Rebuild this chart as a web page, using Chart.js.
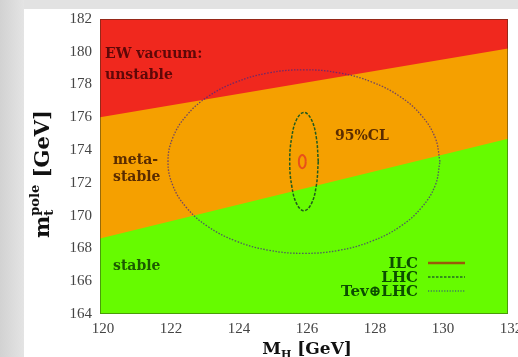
<!DOCTYPE html>
<html>
<head>
<meta charset="utf-8">
<script src="https://cdn.jsdelivr.net/npm/chart.js@4.4.1/dist/chart.umd.min.js"></script>
<style>
  html, body { margin: 0; padding: 0; background: #dedede; }
  #wrap { position: absolute; left: 0; top: 0; width: 518px; height: 357px; }
</style>
</head>
<body>
<div id="wrap"><canvas id="vacuum" width="518" height="357"></canvas></div>
<script>
// region boundaries (M_H, m_t)
var edgeMH = [120, 132];
var unstableEdge = [176.0, 180.2];
var stableEdge = [168.6, 174.7];

// Tev+LHC contour
var tevMH = [130.0, 129.86, 129.46, 128.83, 128.0, 127.04, 126.0, 124.96, 124.0, 123.17, 122.54, 122.14, 122.0,
             122.14, 122.54, 123.17, 124.0, 124.96, 126.0, 127.04, 128.0, 128.83, 129.46, 129.86, 130.0];
var tevMt = [173.3, 174.75, 176.1, 177.26, 178.15, 178.71, 178.9, 178.71, 178.15, 177.26, 176.1, 174.75, 173.3,
             171.85, 170.5, 169.34, 168.45, 167.89, 167.7, 167.89, 168.45, 169.34, 170.5, 171.85, 173.3];

// LHC contour
var lhcMH = [126.42, 126.36, 126.21, 126.0, 125.79, 125.64, 125.58, 125.64, 125.79, 126.0, 126.21, 126.36, 126.42];
var lhcMt = [173.3, 174.8, 175.9, 176.3, 175.9, 174.8, 173.3, 171.8, 170.7, 170.3, 170.7, 171.8, 173.3];

// ILC contour
var ilcMH = [126.05, 126.04, 126.0, 125.95, 125.9, 125.86, 125.85, 125.86, 125.9, 125.95, 126.0, 126.04, 126.05];
var ilcMt = [173.3, 173.5, 173.65, 173.7, 173.65, 173.5, 173.3, 173.1, 172.95, 172.9, 172.95, 173.1, 173.3];

var xTicks = [120, 122, 124, 126, 128, 130, 132];
var yTicks = [164, 166, 168, 170, 172, 174, 176, 178, 180, 182];

var legendNames = ['ILC', 'LHC', 'Tev\u2295LHC'];

var RED = '#f0281e', ORANGE = '#f5a000', GREEN = '#66fb00';

function pts(xs, ys) {
    return xs.map(function (x, i) { return { x: x, y: ys[i] }; });
}

var serif = '"Liberation Serif", "DejaVu Serif", serif';
var bserif = '"DejaVu Serif", serif';

// draws a run of text pieces: [text, size, dy], stacked pieces share one advance
function richText(ctx, parts, x, y, align) {
    var total = 0, widths = [];
    parts.forEach(function (p) {
        var w = 0;
        p.forEach(function (s) {
            ctx.font = 'bold ' + s[1] + 'px ' + bserif;
            w = Math.max(w, ctx.measureText(s[0]).width);
        });
        widths.push(w);
        total += w;
    });
    var cx = align === 'center' ? x - total / 2 : x;
    parts.forEach(function (p, i) {
        p.forEach(function (s) {
            ctx.font = 'bold ' + s[1] + 'px ' + bserif;
            ctx.fillText(s[0], cx, y + s[2]);
        });
        cx += widths[i];
    });
}

var framePlugin = {
    id: 'frame',
    beforeDraw: function (chart) {
        var ctx = chart.ctx, a = chart.chartArea;
        ctx.save();
        var g = ctx.createLinearGradient(0, 0, 24, 0);
        g.addColorStop(0, '#d2d2d2');
        g.addColorStop(1, '#e4e4e4');
        ctx.fillStyle = g;
        ctx.fillRect(0, 0, 518, 357);
        ctx.fillStyle = '#e2e2e2';
        ctx.fillRect(24, 0, 494, 9);
        ctx.fillStyle = '#ffffff';
        ctx.fillRect(24, 9, 494, 348);
        ctx.fillStyle = ORANGE;
        ctx.fillRect(a.left, a.top, a.right - a.left, a.bottom - a.top);
        ctx.restore();
    },
    afterDatasetsDraw: function (chart) {
        var ctx = chart.ctx, a = chart.chartArea;
        ctx.save();
        ctx.strokeStyle = 'rgba(40,40,20,0.45)';
        ctx.lineWidth = 1;
        ctx.strokeRect(a.left + 0.5, a.top + 0.5, a.right - a.left - 1, a.bottom - a.top - 1);

        ctx.textBaseline = 'alphabetic';
        ctx.textAlign = 'left';
        ctx.font = 'bold 14px ' + bserif;
        ctx.fillStyle = '#5e0808';
        ctx.fillText('EW vacuum:', 105, 58);
        ctx.fillText('unstable', 105, 79);
        ctx.fillStyle = '#5a2c00';
        ctx.fillText('meta-', 113, 164);
        ctx.fillText('stable', 113, 181);
        ctx.fillText('95%CL', 335, 140);
        ctx.fillStyle = '#1c5a00';
        ctx.fillText('stable', 113, 270);

        // legend
        ctx.font = 'bold 15px ' + bserif;
        ctx.textAlign = 'right';
        ctx.fillStyle = '#0c4e00';
        var ly = [263, 277, 291];
        legendNames.forEach(function (n, i) { ctx.fillText(n, 418, ly[i] + 5); });
        ctx.lineWidth = 2.5;
        ctx.strokeStyle = '#9a5a0a';
        ctx.beginPath(); ctx.moveTo(428, ly[0]); ctx.lineTo(465, ly[0]); ctx.stroke();
        ctx.lineWidth = 1.5;
        ctx.setLineDash([2.5, 1.5]);
        ctx.strokeStyle = '#236a23';
        ctx.beginPath(); ctx.moveTo(428, ly[1]); ctx.lineTo(465, ly[1]); ctx.stroke();
        ctx.setLineDash([1.2, 1.5]);
        ctx.strokeStyle = '#3c7c60';
        ctx.beginPath(); ctx.moveTo(428, ly[2]); ctx.lineTo(465, ly[2]); ctx.stroke();
        ctx.setLineDash([]);

        // axis titles
        ctx.fillStyle = '#111111';
        ctx.textAlign = 'left';
        richText(ctx, [[['M', 17, 0]], [['H', 11, 4]], [[' [GeV]', 17, 0]]], 307, 354, 'center');
        ctx.translate(49, 174);
        ctx.rotate(-Math.PI / 2);
        richText(ctx, [[['m', 21, 0]], [['t', 13, 4], ['pole', 13, -10]], [[' [GeV]', 21, 0]]], 0, 0, 'center');
        ctx.restore();
    }
};

function contour(xs, ys, color, width, dash) {
    return {
        data: pts(xs, ys),
        showLine: true,
        borderColor: color,
        borderWidth: width,
        borderDash: dash,
        pointRadius: 0,
        tension: 0.4,
        fill: false
    };
}

new Chart(document.getElementById('vacuum'), {
    type: 'scatter',
    data: {
        // index 0 is painted last, so the contours come first
        datasets: [
        contour(ilcMH, ilcMt, '#e8501a', 2, []),
        contour(lhcMH, lhcMt, '#1f5a1f', 1.5, [3, 1.5]),
        contour(tevMH, tevMt, 'rgba(70,40,130,0.75)', 1.3, [1.5, 1.5]),
        {
            data: pts(edgeMH, unstableEdge),
            showLine: true,
            borderWidth: 0,
            borderColor: RED,
            backgroundColor: RED,
            pointRadius: 0,
            fill: 'end'
        }, {
            data: pts(edgeMH, stableEdge),
            showLine: true,
            borderWidth: 0,
            borderColor: GREEN,
            backgroundColor: GREEN,
            pointRadius: 0,
            fill: 'start'
        }]
    },
    options: {
        responsive: false,
        animation: false,
        layout: { padding: { left: 0, top: 19, right: 10, bottom: 0 } },
        plugins: {
            legend: { display: false },
            tooltip: { enabled: false }
        },
        scales: {
            x: {
                type: 'linear',
                min: 120,
                max: 132,
                afterBuildTicks: function (s) { s.ticks = xTicks.map(function (v) { return { value: v }; }); },
                afterFit: function (s) { s.height = 43; s.paddingLeft = 0; s.paddingRight = 0; },
                grid: { display: false, drawTicks: false },
                border: { display: false },
                ticks: {
                    padding: 6,
                    labelOffset: 3,
                    maxRotation: 0,
                    autoSkip: false,
                    color: '#444444',
                    font: { family: serif, size: 15 }
                }
            },
            y: {
                type: 'linear',
                min: 164,
                max: 182,
                afterBuildTicks: function (s) { s.ticks = yTicks.map(function (v) { return { value: v }; }); },
                afterFit: function (s) { s.width = 100; s.paddingTop = 0; s.paddingBottom = 0; },
                grid: { display: false, drawTicks: false },
                border: { display: false },
                ticks: {
                    padding: 8,
                    autoSkip: false,
                    color: '#444444',
                    font: { family: serif, size: 15 }
                }
            }
        }
    },
    plugins: [framePlugin]
});
</script>
</body>
</html>
